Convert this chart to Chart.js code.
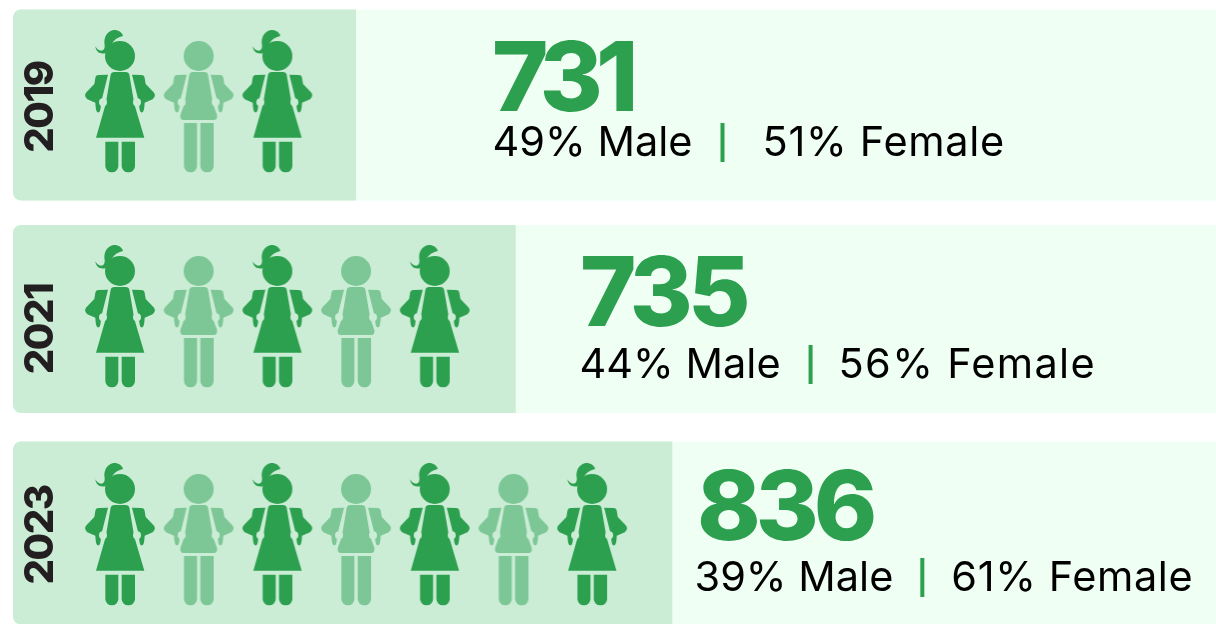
<!DOCTYPE html>
<html>
<head>
<meta charset="utf-8">
<script src="https://cdn.jsdelivr.net/npm/chart.js@4"></script>
<style>
  html, body { margin: 0; padding: 0; background: #fff; }
  #wrap { width: 1216px; height: 624px; }
</style>
</head>
<body>
<div id="wrap"><canvas id="chart" width="1216" height="624"></canvas></div>
<script>
// chart data
const years = ["2019", "2021", "2023"];
const totals = [731, 735, 836];
const malePct = [49, 44, 39];
const femalePct = [51, 56, 61];
const femaleSlots = [[1, 3], [1, 3, 5], [1, 3, 5, 7]];
const maleSlots = [[2], [2, 4], [2, 4, 6]];
const panelLength = [4.36, 6.39, 8.38];
const trackLength = [15.29, 15.29, 15.29];

// layout, in pixels
const rowHeight = [191, 188, 183];
const iconShift = [-4, -3, 1];
const firstSlot = 1.36;
const axisMax = 15.29;
const totalX = [492, 580, 697];
const totalBase = [111, 326, 540];
const totalTrack = [-7, -5, -5];
const lineX = [492.5, 579.5, 694.5];
const lineBase = [156, 378, 591];
const dividerGap = [28, 28, 27];
const femaleGap = [38, 26, 27];
const femaleTrack = [0.7, 1.3, 0.6];
const yearOffset = [2, 10, 2];

const GREEN = "#2ca04f";
const LIGHT = "#7cc795";
const PANEL = "#cbecd5";
const TRACK = "#f0fff4";

// the pictogram figure, traced at 3x and scaled down
function drawArm(ctx) {
  ctx.beginPath();
  ctx.moveTo(298, 225);
  ctx.lineTo(326, 224);
  ctx.lineTo(308, 296);
  ctx.lineTo(304, 322);
  ctx.quadraticCurveTo(303, 340, 295, 337);
  ctx.quadraticCurveTo(289, 334, 288, 308);
  ctx.lineTo(264, 298);
  ctx.quadraticCurveTo(250, 286, 264, 274);
  ctx.lineTo(285, 252);
  ctx.lineTo(288, 234);
  ctx.quadraticCurveTo(289, 225, 298, 225);
  ctx.fill();
}

function makeIcon(kind, color, shift) {
  const c = document.createElement("canvas");
  c.width = 90;
  c.height = 170;
  const ctx = c.getContext("2d");
  ctx.translate(45, 85 + shift);
  ctx.scale(1 / 3, 1 / 3);
  ctx.translate(-362, -303);
  ctx.fillStyle = color;

  // head
  ctx.beginPath();
  ctx.arc(362, 168, 45, 0, Math.PI * 2);
  ctx.fill();

  drawArm(ctx);
  ctx.save();
  ctx.translate(724, 0);
  ctx.scale(-1, 1);
  drawArm(ctx);
  ctx.restore();

  if (kind === "F") {
    // hair
    ctx.beginPath();
    ctx.moveTo(338, 132);
    ctx.bezierCurveTo(345, 116, 358, 112, 371, 108);
    ctx.bezierCurveTo(368, 95, 352, 88, 340, 91);
    ctx.bezierCurveTo(322, 95, 312, 115, 316, 135);
    ctx.bezierCurveTo(317, 146, 312, 155, 300, 151);
    ctx.bezierCurveTo(295, 149, 291, 145, 288, 139);
    ctx.bezierCurveTo(290, 155, 300, 163, 318, 160);
    ctx.closePath();
    ctx.fill();
    // dress
    ctx.beginPath();
    ctx.moveTo(345, 216);
    ctx.lineTo(379, 216);
    ctx.quadraticCurveTo(388, 216, 390, 224);
    ctx.lineTo(405, 312);
    ctx.lineTo(435, 413);
    ctx.lineTo(290, 413);
    ctx.lineTo(319, 312);
    ctx.lineTo(334, 224);
    ctx.quadraticCurveTo(336, 216, 345, 216);
    ctx.fill();
  } else {
    // torso
    ctx.beginPath();
    ctx.moveTo(345, 216);
    ctx.lineTo(379, 216);
    ctx.quadraticCurveTo(388, 216, 390, 224);
    ctx.lineTo(405, 312);
    ctx.lineTo(417, 345);
    ctx.quadraticCurveTo(419, 360, 407, 360);
    ctx.lineTo(317, 360);
    ctx.quadraticCurveTo(305, 360, 307, 345);
    ctx.lineTo(319, 312);
    ctx.lineTo(334, 224);
    ctx.quadraticCurveTo(336, 216, 345, 216);
    ctx.fill();
  }

  // legs
  const legTop = kind === "F" ? 425 : 369;
  ctx.beginPath();
  ctx.roundRect(318, legTop, 39, 517 - legTop, [0, 0, 19, 19]);
  ctx.roundRect(367, legTop, 40, 517 - legTop, [0, 0, 19, 19]);
  ctx.fill();

  // hands are cut out so the panel shows through
  ctx.globalCompositeOperation = "destination-out";
  ctx.beginPath();
  ctx.arc(311, 307, 12, 0, Math.PI * 2);
  ctx.arc(413, 307, 12, 0, Math.PI * 2);
  ctx.fill();
  return c;
}

function slotPoints(slots, kind, color) {
  const points = [];
  const styles = [];
  slots.forEach((row, i) => {
    const icon = makeIcon(kind, color, iconShift[i]);
    row.forEach(s => {
      points.push({ x: firstSlot + s - 1, y: years[i] });
      styles.push(icon);
    });
  });
  return { points, styles };
}

const female = slotPoints(femaleSlots, "F", GREEN);
const male = slotPoints(maleSlots, "M", LIGHT);

function iconDataset(label, set) {
  return {
    type: "scatter",
    label: label,
    data: set.points,
    pointStyle: set.styles,
    pointRadius: 90,
    order: 0,
    clip: false
  };
}

function rowDataset(label, values, i, color, order) {
  return {
    label: label + " " + years[i],
    data: values.map((v, j) => (j === i ? v : null)),
    backgroundColor: color,
    barPercentage: 1,
    categoryPercentage: 1,
    maxBarThickness: rowHeight[i],
    grouped: false,
    inflateAmount: 0,
    borderSkipped: false,
    borderRadius: { topLeft: 8, bottomLeft: 8, topRight: 0, bottomRight: 0 },
    order: order,
    clip: false
  };
}

const datasets = [iconDataset("Female", female), iconDataset("Male", male)];
years.forEach((y, i) => {
  datasets.push(rowDataset("Panel", panelLength, i, PANEL, 1));
  datasets.push(rowDataset("Track", trackLength, i, TRACK, 2));
});

// year labels, totals and the percentage lines
const rowText = {
  id: "rowText",
  afterDatasetsDraw(chart) {
    const ctx = chart.ctx;
    const yScale = chart.scales.y;
    ctx.save();
    ctx.textBaseline = "alphabetic";
    ctx.textAlign = "left";
    years.forEach((year, i) => {
      // year
      ctx.save();
      ctx.translate(53, yScale.getPixelForValue(i) + yearOffset[i]);
      ctx.rotate(-Math.PI / 2);
      ctx.textAlign = "center";
      ctx.fillStyle = "#231f20";
      ctx.font = "800 40px Inter";
      ctx.letterSpacing = "-1.5px";
      ctx.fillText(year, 0, 0);
      ctx.restore();

      // total
      ctx.fillStyle = GREEN;
      ctx.font = "800 96px Inter";
      ctx.letterSpacing = totalTrack[i] + "px";
      ctx.fillText(String(totals[i]), totalX[i], totalBase[i]);

      // percentages
      ctx.font = "400 41.5px Inter";
      ctx.letterSpacing = "0px";
      ctx.fillStyle = "#000";
      const maleText = malePct[i] + "% Male";
      const femaleText = femalePct[i] + "% Female";
      ctx.fillText(maleText, lineX[i], lineBase[i]);
      const w = ctx.measureText(maleText).width;
      const barX = lineX[i] + w + dividerGap[i];
      ctx.fillStyle = GREEN;
      ctx.fillRect(barX, lineBase[i] - 33, 4, 39);
      ctx.fillStyle = "#000";
      ctx.letterSpacing = femaleTrack[i] + "px";
      ctx.fillText(femaleText, barX + femaleGap[i] + 4, lineBase[i]);
    });
    ctx.restore();
  }
};

new Chart(document.getElementById("chart"), {
  type: "bar",
  data: { labels: years, datasets: datasets },
  plugins: [rowText],
  options: {
    indexAxis: "y",
    responsive: false,
    animation: false,
    events: [],
    layout: { autoPadding: false, padding: { left: 13, right: 0, top: 105, bottom: 91 } },
    plugins: { legend: { display: false }, tooltip: { enabled: false } },
    scales: {
      x: { type: "linear", display: false, min: 0, max: axisMax },
      y: { type: "category", labels: years, offset: false, display: false }
    }
  }
});
</script>
</body>
</html>
